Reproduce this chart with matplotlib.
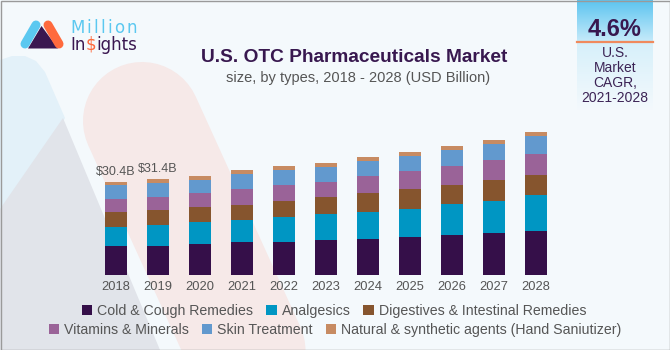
import matplotlib
matplotlib.use("Agg")
import numpy as np
import matplotlib.pyplot as plt
from matplotlib.patches import Polygon, Rectangle
from matplotlib.lines import Line2D
from matplotlib.offsetbox import TextArea, HPacker, AnnotationBbox

plt.rcParams["font.family"] = ["Liberation Sans", "DejaVu Sans"]

# data (USD billion)
years = ["2018", "2019", "2020", "2021", "2022", "2023", "2024", "2025", "2026", "2027", "2028"]
cold_cough = [9.35, 9.4, 10.0, 10.7, 10.7, 11.3, 11.9, 12.4, 13.1, 13.8, 14.4]
analgesics = [6.2, 6.9, 7.4, 7.4, 8.2, 8.6, 8.8, 9.15, 10.0, 10.35, 11.75]
digestives = [4.9, 5.0, 4.9, 4.9, 5.3, 5.55, 6.1, 6.5, 6.3, 6.9, 6.5]
vitamins = [4.3, 4.3, 4.5, 5.1, 5.2, 5.1, 5.55, 5.9, 6.1, 6.4, 6.9]
skin = [4.55, 4.5, 4.25, 4.9, 4.9, 4.9, 4.9, 5.1, 5.4, 5.3, 6.0]
natural = [1.1, 1.3, 1.4, 1.4, 1.3, 1.2, 1.4, 1.3, 1.4, 1.5, 1.2]
total_labels = ["$30.4B", "$31.4B"]

series_names = ["Cold & Cough Remedies", "Analgesics", "Digestives & Intestinal Remedies",
                "Vitamins & Minerals", "Skin Treatment", "Natural & synthetic agents (Hand Saniutizer)"]
series = [cold_cough, analgesics, digestives, vitamins, skin, natural]
colors = ["#350f49", "#0096c3", "#86552e", "#9a6398", "#6299ce", "#c78b62"]

cagr = "4.6%"
cagr_lines = ["U.S.", "Market", "CAGR,", "2021-2028"]

TEXT = "#555555"
DARK = "#38184f"

fig = plt.figure(figsize=(6.7, 3.5), dpi=100, facecolor="#f4f9fc")

# background layer in pixel coordinates (y down)
bg = fig.add_axes([0, 0, 1, 1])
bg.set_xlim(0, 670)
bg.set_ylim(350, 0)
bg.axis("off")

# faded logo shapes behind the chart
bg.add_patch(Polygon([(0, 60), (12, 56), (25, 56), (36, 61), (45, 72), (65, 118), (0, 245)],
                     closed=True, color="#e3f1f9", lw=0))
bg.add_line(Line2D([142, 262], [121, 385], lw=85, color="#f6e9e8", solid_capstyle="round"))
bg.add_patch(Polygon([(63, 118), (0, 209), (0, 350), (160, 350)], closed=True, color="#e1e4ea", lw=0))

# logo
bg.add_line(Line2D([25, 36], [44, 25], lw=6.5, color="#5bc8f0", solid_capstyle="round"))
bg.add_patch(Polygon([(41.5, 26), (28, 48.5), (58, 48.5)], closed=True, color="#3a1750", lw=0))
bg.add_line(Line2D([48, 59], [25, 44], lw=6.5, color="#ff6a3d", solid_capstyle="round"))
letters = [TextArea(ch, textprops=dict(fontsize=12, family="DejaVu Sans", color="#5bc8f0"))
           for ch in "Million"]
logo1 = AnnotationBbox(HPacker(children=letters, pad=0, sep=1.6, align="baseline"), (70, 28),
                       xycoords="data", box_alignment=(0, 0.5), frameon=False, pad=0)
bg.add_artist(logo1)
parts = [TextArea(t, textprops=dict(fontsize=12, family="DejaVu Sans", color=c))
         for t, c in [("In", "#3a1750"), ("$", "#ff6a3d"), ("ights", "#3a1750")]]
logo2 = AnnotationBbox(HPacker(children=parts, pad=0, sep=0, align="baseline"), (70, 45),
                       xycoords="data", box_alignment=(0, 0.5), frameon=False, pad=0)
bg.add_artist(logo2)

# CAGR box
top_grad = np.linspace(0, 1, 50)[:, None, None] * (np.array([0.78, 0.92, 0.98]) - np.array([0.36, 0.77, 0.94])) + np.array([0.36, 0.77, 0.94])
bg.imshow(np.repeat(top_grad, 2, axis=1), extent=(577, 653, 42, 0), aspect="auto", zorder=2)
low_grad = np.linspace(0, 1, 50)[:, None, None] * (np.array([0.955, 0.976, 0.99]) - np.array([0.84, 0.94, 0.98])) + np.array([0.84, 0.94, 0.98])
bg.imshow(np.repeat(low_grad, 2, axis=1), extent=(577, 653, 110, 42), aspect="auto", zorder=2)
bg.add_line(Line2D([577, 653], [42, 42], lw=1.6, color="#f08a5d", zorder=3))
bg.text(615, 29, cagr, fontsize=17, weight="bold", color=DARK, ha="center", va="center", zorder=4)
for i, line in enumerate(cagr_lines):
    bg.text(615, 53 + 15 * i, line, fontsize=10, color="#3c2455", ha="center", va="center", zorder=4)
bg.set_xlim(0, 670)
bg.set_ylim(350, 0)

# frame
bg.add_patch(Rectangle((0.5, 0.5), 669, 349, fill=False, ec="#9a9a9a", lw=1, zorder=5))

# titles
fig.text(354 / 670, 1 - 57 / 350, "U.S. OTC Pharmaceuticals Market", fontsize=13.8, weight="bold",
         color=DARK, ha="center", va="center")
fig.text(358 / 670, 1 - 78 / 350, "size, by types, 2018 - 2028 (USD Billion)", fontsize=10.5,
         color=TEXT, ha="center", va="center")

# chart
ax = fig.add_axes([91 / 670, 75 / 350, 470 / 670, 153 / 350])
ax.patch.set_alpha(0)
x = np.arange(len(years))
bottom = np.zeros(len(years))
handles = []
for name, vals, col in zip(series_names, series, colors):
    h = ax.bar(x, vals, width=0.53, bottom=bottom, color=col, label=name, lw=0)
    handles.append(h)
    bottom += np.array(vals)

for i, lab in enumerate(total_labels):
    ax.annotate(lab, (x[i], bottom[i]), xytext=(0, 3), textcoords="offset points",
                ha="center", va="bottom", fontsize=9, color=TEXT)

ax.set_xlim(-0.6, 10.6)
ax.set_ylim(0, 50)
ax.set_xticks(x)
ax.set_xticklabels(years, fontsize=9.3, color=TEXT)
ax.tick_params(axis="x", length=0, pad=4)
ax.set_yticks([])
for s in ax.spines.values():
    s.set_visible(False)

leg_kw = dict(loc="center", frameon=False, ncol=3, fontsize=10.2, labelcolor=TEXT,
              handlelength=0.75, handleheight=0.75, handletextpad=0.35, columnspacing=0.9, borderpad=0)
fig.legend(handles[:3], series_names[:3], bbox_to_anchor=(334 / 670, 1 - 311 / 350), **leg_kw)
fig.legend(handles[3:], series_names[3:], bbox_to_anchor=(335 / 670, 1 - 330 / 350), **leg_kw)

fig.savefig("out.png", dpi=100, facecolor=fig.get_facecolor())
